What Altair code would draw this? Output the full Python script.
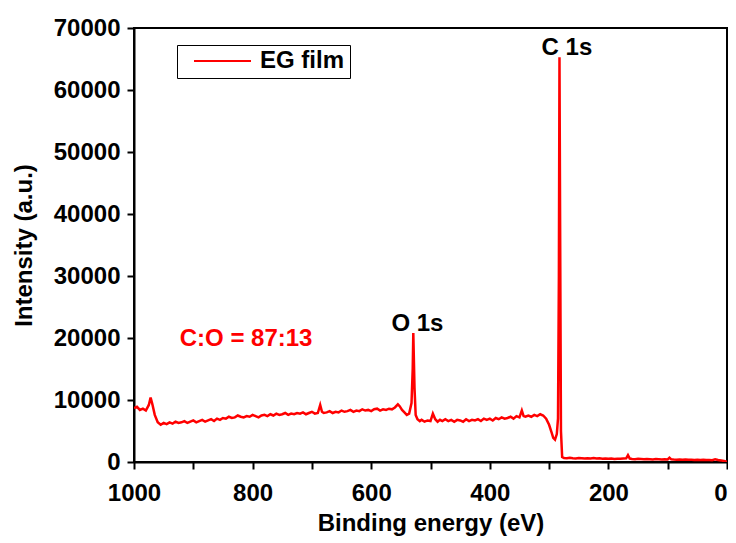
import altair as alt
import pandas as pd

energy = [
    1000, 995, 990, 985, 980, 975, 972, 969, 965, 960, 955, 950, 945, 940, 935, 930, 925, 920, 915, 910,
    905, 900, 895, 890, 885, 880, 875, 870, 865, 860, 855, 850, 845, 840, 835, 830, 825, 820, 815, 810,
    805, 800, 795, 790, 785, 780, 775, 770, 765, 760, 755, 750, 745, 740, 735, 730, 725, 720, 715, 710,
    705, 700, 695, 690, 686, 683, 680, 675, 670, 665, 660, 655, 650, 645, 640, 635, 630, 625, 620, 615,
    610, 605, 600, 595, 590, 585, 580, 575, 570, 565, 560, 555, 552, 548, 544, 540, 536, 532, 530, 529,
    527, 525, 522, 518, 515, 510, 505, 500, 496, 492, 488, 484, 480, 475, 470, 465, 460, 455, 450, 445,
    440, 435, 430, 425, 420, 415, 410, 405, 400, 395, 390, 385, 380, 375, 370, 365, 360, 355, 350, 346,
    343, 340, 335, 330, 325, 320, 315, 310, 305, 300, 296, 293, 290, 287, 285, 283.5, 282.5, 281.5, 280, 278,
    275, 270, 265, 260, 255, 250, 245, 240, 235, 230, 225, 220, 215, 210, 205, 200, 195, 190, 185, 180,
    175, 170, 167, 164, 160, 155, 150, 145, 140, 135, 130, 125, 120, 115, 110, 105, 100, 97, 94, 90,
    85, 80, 75, 70, 65, 60, 55, 50, 45, 40, 35, 30, 25, 20, 15, 10, 5, 0,
]
intensity = [
    8700, 8900, 8400, 8600, 8300, 9200, 10400, 9300, 7600, 6400, 6000, 6300, 6100, 6400, 6200, 6500, 6300, 6400, 6600, 6300,
    6500, 6700, 6400, 6600, 6800, 6500, 6700, 6900, 6600, 7000, 6800, 7100, 7000, 7300, 7100, 7200, 7500, 7300, 7200, 7400,
    7300, 7600, 7400, 7200, 7500, 7600, 7400, 7700, 7500, 7800, 7600, 7700, 7900, 7600, 7800, 7700, 7900, 7800, 8000, 7700,
    7900, 8100, 7800, 7900, 9200, 8100, 7900, 8000, 8200, 7900, 8100, 8000, 8300, 8100, 8200, 8400, 8100, 8300, 8200, 8500,
    8300, 8400, 8200, 8500, 8600, 8300, 8500, 8400, 8600, 8500, 8800, 9300, 9000, 8400, 8000, 7600, 7800, 9500, 15000, 20800,
    12000, 7600, 6900, 6600, 6800, 6500, 6700, 6600, 7800, 6900, 6500, 6800, 6600, 6900, 6600, 6800, 6500, 6800, 6700, 6500,
    6900, 6600, 6800, 6700, 6900, 6600, 7000, 6800, 7000, 6700, 7100, 6900, 7200, 7000, 7100, 7300, 7000, 7400, 7200, 8300,
    7400, 7300, 7500, 7300, 7600, 7400, 7700, 7500, 7000, 6000, 4800, 3900, 3600, 4500, 7000, 30000, 65300, 40000, 5000, 800,
    650, 600, 680, 620, 580, 640, 600, 560, 620, 580, 650, 560, 600, 540, 580, 520, 560, 500, 540, 520,
    560, 600, 1100, 560, 500, 460, 520, 480, 440, 500, 460, 420, 470, 430, 400, 450, 420, 700, 430, 400,
    380, 420, 360, 400, 350, 380, 340, 370, 320, 350, 310, 340, 300, 420, 320, 260, 150, 50,
]
series_name = ["EG film"]

ann_text = ["C 1s", "O 1s", "C:O = 87:13"]
ann_e = [270, 522, 811]
ann_i = [66800, 22300, 19800]
ann_color = ["black", "black", "#FF0000"]

x_ticks = list(range(0, 1001, 100))
y_ticks = list(range(0, 70001, 5000))

FONT = "Liberation Sans"

df = pd.DataFrame({"E": energy, "I": intensity, "series": series_name[0]})
ann = pd.DataFrame({"E": ann_e, "I": ann_i, "text": ann_text, "color": ann_color})

xscale = alt.Scale(domain=[0, 1000], reverse=True, nice=False, zero=False)
yscale = alt.Scale(domain=[0, 70000], nice=False)

line = alt.Chart(df).mark_line(strokeWidth=2.5, clip=True).encode(
    x=alt.X("E:Q", scale=xscale, axis=alt.Axis(
        title="Binding energy (eV)", values=x_ticks, format="d",
        labelExpr="datum.value % 200 == 0 ? datum.label : ''",
        labelFlush=False, labelOverlap=False,
        labelAlign=alt.ConditionalAxisLabelAlign(
            condition={"test": "datum.value == 0", "value": "right"}, value="center"),
        labelPadding=12, titlePadding=6)),
    y=alt.Y("I:Q", scale=yscale, axis=alt.Axis(
        title="Intensity (a.u.)", values=y_ticks, format="d",
        labelExpr="datum.value % 10000 == 0 ? datum.label : ''",
        labelFlush=False, labelOverlap=False,
        labelPadding=7, titlePadding=17)),
    color=alt.Color("series:N", scale=alt.Scale(range=["#FF0000"]), legend=alt.Legend(
        title=None, orient="none", legendX=43, legendY=17,
        strokeColor="black", fillColor="white", padding=5,
        symbolType="stroke", symbolStrokeWidth=2, symbolSize=3249,
        symbolOffset=11, clipHeight=22,
        labelFontSize=24, labelFont=FONT, labelFontWeight="bold", labelColor="black",
        labelOffset=8)),
    order=alt.Order("E:Q", sort="descending"),
)

texts = alt.Chart(ann).mark_text(
    font=FONT, fontSize=24, fontWeight="bold", align="center", baseline="middle"
).encode(
    x=alt.X("E:Q", scale=xscale),
    y=alt.Y("I:Q", scale=yscale),
    text="text:N",
    color=alt.Color("color:N", scale=None),
)

chart = alt.layer(line, texts).properties(
    width=593, height=434,
    autosize=alt.AutoSizeParams(type="none"),
    padding={"left": 126, "top": 20, "right": 1, "bottom": 80},
).configure_view(
    stroke="black", strokeWidth=2
).configure_axis(
    grid=False, domainColor="black", domainWidth=2, tickColor="black", tickWidth=2, tickSize=7,
    labelFont=FONT, labelFontSize=24, labelFontWeight="bold", labelColor="black",
    titleFont=FONT, titleFontSize=24, titleFontWeight="bold", titleColor="black",
)

chart.save("out.html", embed_options={"renderer": "svg", "actions": False})
